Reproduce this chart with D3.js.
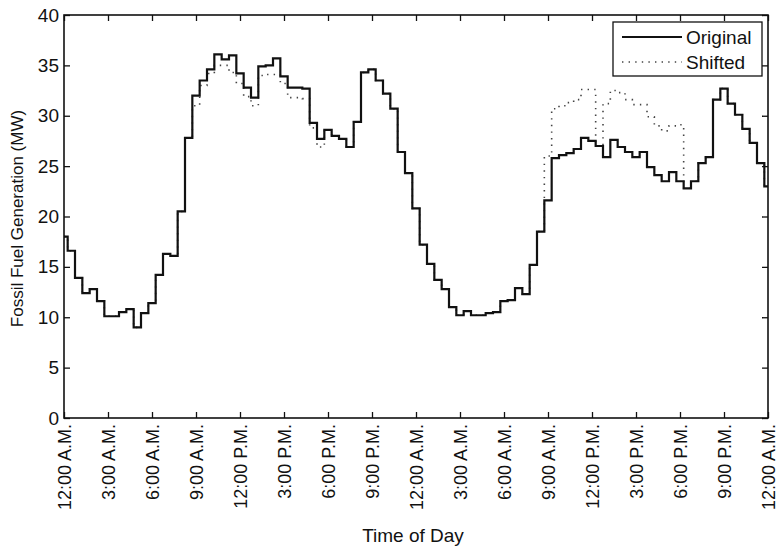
<!DOCTYPE html>
<html><head><meta charset="utf-8">
<script src="https://cdn.jsdelivr.net/npm/d3@7"></script>
<style>body{margin:0;background:#fff}svg{display:block}text{font-family:"Liberation Sans",Arial,sans-serif;fill:#111}</style>
</head><body><svg id="c" width="778" height="546"></svg>
<script>
// Hours since midnight, one point every half hour over two days
const hours = d3.range(0, 48.5, 0.5);
const original = [18.0,16.6,13.9,12.4,12.8,11.6,10.1,10.1,10.5,10.8,9.0,10.4,11.4,14.2,16.3,16.1,20.5,27.8,32.0,33.5,
34.6,36.1,35.6,36.0,34.2,32.8,31.8,34.9,35.0,35.7,33.9,32.8,32.8,32.7,29.3,27.7,28.6,28.0,27.7,26.9,
29.4,34.3,34.6,33.5,32.2,30.7,26.4,24.3,20.8,17.2,15.3,13.7,12.8,11.0,10.2,10.6,10.2,10.2,10.4,10.5,
11.6,11.7,12.9,12.3,15.2,18.5,21.6,25.8,26.1,26.3,26.7,27.8,27.5,27.0,25.9,27.6,26.9,26.4,25.9,26.4,
24.9,24.1,23.5,24.4,23.5,22.8,23.5,25.3,25.9,31.6,32.7,31.2,30.1,28.7,27.3,25.3,23.0];
const shifted = [18.0,16.6,13.9,12.4,12.8,11.6,10.1,10.1,10.5,10.8,9.0,10.4,11.4,14.2,16.3,16.1,20.5,27.8,31.0,33.0,
34.2,35.0,35.0,34.3,33.2,31.9,31.0,34.0,34.1,34.1,33.2,31.8,31.8,31.7,28.8,26.9,28.6,28.0,27.7,26.9,
29.4,34.3,34.6,33.5,32.2,30.7,26.4,24.3,20.8,17.2,15.3,13.7,12.8,11.0,10.2,10.6,10.2,10.2,10.4,10.5,
11.6,11.7,12.9,12.3,15.2,18.5,26.0,30.7,31.0,31.3,31.6,32.6,32.6,27.0,31.2,32.5,32.3,31.6,31.1,31.1,
29.9,29.0,28.5,29.0,29.1,22.8,23.5,25.3,25.9,31.6,32.7,31.2,30.1,28.7,27.3,25.3,23.0];
const xTickHours = d3.range(0, 49, 3);
const xTickLabels = ["12:00 A.M.","3:00 A.M.","6:00 A.M.","9:00 A.M.","12:00 P.M.","3:00 P.M.","6:00 P.M.","9:00 P.M.",
"12:00 A.M.","3:00 A.M.","6:00 A.M.","9:00 A.M.","12:00 P.M.","3:00 P.M.","6:00 P.M.","9:00 P.M.","12:00 A.M."];
const yTicks = [0,5,10,15,20,25,30,35,40];
const seriesNames = ["Original","Shifted"];

const svg = d3.select("#c");
const L=64,R=768,T=15,B=418;
const x = d3.scaleLinear().domain([0,48]).range([L,R]);
const y = d3.scaleLinear().domain([0,40]).range([B,T]);

const line = d3.line().x((d,i)=>x(hours[i])).y(d=>y(d)).curve(d3.curveStep);
svg.append("path").datum(shifted).attr("d",line).attr("fill","none")
  .attr("stroke","#444").attr("stroke-width",1.6).attr("stroke-dasharray","1.4 5.2");
svg.append("path").datum(original).attr("d",line).attr("fill","none")
  .attr("stroke","#111").attr("stroke-width",2.2);

// axes (MATLAB style inward ticks)
const fmt = (d,i)=>xTickLabels[i];
const xb = svg.append("g").attr("transform",`translate(0,${B})`)
  .call(d3.axisBottom(x).tickValues(xTickHours).tickSizeInner(-6).tickSizeOuter(0).tickFormat(fmt));
xb.selectAll("text").attr("transform","rotate(-90)").attr("text-anchor","end")
  .attr("x",-6).attr("y",0).attr("dy","0.36em").style("font-size","18px");
svg.append("g").attr("transform",`translate(0,${T})`)
  .call(d3.axisTop(x).tickValues(xTickHours).tickSizeInner(-6).tickSizeOuter(0).tickFormat(""));
const yl = svg.append("g").attr("transform",`translate(${L},0)`)
  .call(d3.axisLeft(y).tickValues(yTicks).tickSizeInner(-6).tickSizeOuter(0));
yl.selectAll("text").attr("x",-5).style("font-size","19px");
svg.append("g").attr("transform",`translate(${R},0)`)
  .call(d3.axisRight(y).tickValues(yTicks).tickSizeInner(-6).tickSizeOuter(0).tickFormat(""));
svg.selectAll(".domain").remove();
svg.selectAll(".tick line").attr("stroke","#111").attr("stroke-width",1.3);
svg.selectAll(".tick text").attr("fill","#111");
svg.append("rect").attr("x",L).attr("y",T).attr("width",R-L).attr("height",B-T)
  .attr("fill","none").attr("stroke","#111").attr("stroke-width",1.6);

svg.append("text").attr("x",413).attr("y",542).attr("text-anchor","middle")
  .style("font-size","19px").text("Time of Day");
svg.append("text").attr("transform",`translate(23,${(T+B)/2 + 2}) rotate(-90)`).attr("text-anchor","middle")
  .style("font-size","17px").text("Fossil Fuel Generation (MW)");

// legend
const lg = svg.append("g");
lg.append("rect").attr("x",613).attr("y",22).attr("width",149).attr("height",54)
  .attr("fill","#fff").attr("stroke","#111").attr("stroke-width",1.3);
const styles=[{c:"#111",w:2.2,d:null},{c:"#444",w:1.6,d:"1.4 5.2"}];
seriesNames.forEach((n,i)=>{
  const yy = 37 + i*25;
  lg.append("line").attr("x1",622).attr("x2",682).attr("y1",yy).attr("y2",yy)
    .attr("stroke",styles[i].c).attr("stroke-width",styles[i].w).attr("stroke-dasharray",styles[i].d);
  lg.append("text").attr("x",686).attr("y",yy).attr("dy","0.36em").style("font-size","19px").text(n);
});
</script></body></html>
